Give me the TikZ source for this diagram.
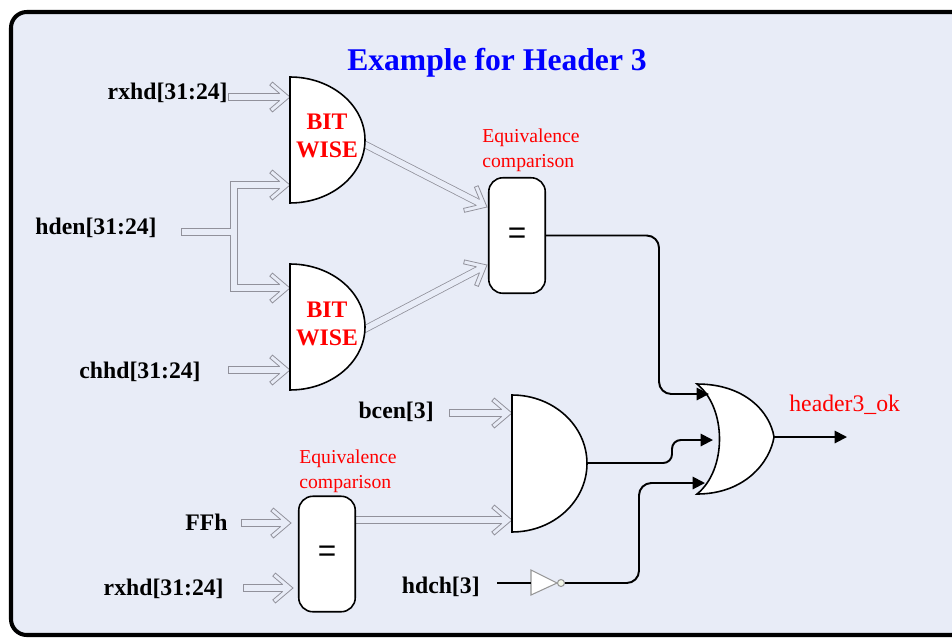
\documentclass[tikz,border=0pt]{standalone}
\usepackage{fontspec}
\setmainfont{Liberation Serif}
\setsansfont{Liberation Sans}
\usetikzlibrary{calc,arrows.meta}

\definecolor{bg}{RGB}{232,236,247}
\definecolor{busgray}{RGB}{145,145,155}
\definecolor{invgray}{RGB}{150,150,150}
\definecolor{bubblefill}{RGB}{242,246,232}

\tikzset{
  sig/.style={font=\fontsize{13.5}{16}\selectfont\bfseries, inner sep=0pt, anchor=east},
  note/.style={font=\fontsize{11.2}{14.2}\selectfont, text=red, align=left, inner sep=0pt},
  bitname/.style={font=\fontsize{13.5}{16}\selectfont\bfseries, text=red, align=center, inner sep=0pt},
  gate/.style={draw=black, fill=white, line width=0.9pt},
  eqbox/.style={gate, rounded corners=8pt, minimum width=1.13cm, minimum height=2.31cm, font=\sffamily\fontsize{18}{18}\selectfont},
  bus/.style={draw=busgray, double=bg, line width=0.45pt, double distance=3.3pt, line cap=rect, line join=miter},
  bushead/.style={draw=busgray, fill=bg, line width=0.45pt, line join=miter},
  wire/.style={line width=1.1pt, rounded corners=7pt, -{Triangle[length=7pt,width=7pt]}},
}

% hollow bus head, #1 = back point, #2 = tip
\newcommand\bushead[2]{%
  \path[bushead] ($(#2)!5.8pt!(#1)!1.9pt!90:(#1)$) -- ($(#2)!11.5pt!(#1)!6.75pt!90:(#1)$)
    -- ($(#2)!10pt!(#1)!8.5pt!90:(#1)$) -- (#2) -- ($(#2)!10pt!(#1)!8.5pt!-90:(#1)$)
    -- ($(#2)!11.5pt!(#1)!6.75pt!-90:(#1)$) -- ($(#2)!5.8pt!(#1)!1.9pt!-90:(#1)$);}
\newcommand\busarrow[2]{\draw[bus] (#1) -- ($(#2)!6.5pt!(#1)$); \bushead{#1}{#2}}

\begin{document}
\begin{tikzpicture}[x=0.02cm, y=0.02cm]
  \useasboundingbox (0,0) rectangle (952,-637);
  \clip (0,0) rectangle (952,-637);
  \fill[white] (0,0) rectangle (952,-637);
  \draw[line width=2.3pt, fill=bg, rounded corners=9pt] (11,-12) rectangle (990,-635);

  %%%%% pins %%%%%
  \coordinate (rxhdabus) at (232,-97);
  \coordinate (hdenbus) at (185,-232);
  \coordinate (split) at (234,-232);
  \coordinate (tbr) at (234,-185);
  \coordinate (bbr) at (234,-288);
  \coordinate (chhdbus) at (232,-370);
  \coordinate (bcenbus) at (453,-413);
  \coordinate (ffhbus) at (245,-523);
  \coordinate (rxhdbbus) at (247,-588);
  \coordinate (hdchbus) at (497,-583);
  \coordinate (bwain1) at (290,-97);
  \coordinate (bwain2) at (290,-185);
  \coordinate (bwbin1) at (290,-288);
  \coordinate (bwbin2) at (290,-370);
  \coordinate (bwaout) at (364,-144);
  \coordinate (bwbout) at (365,-329);
  \coordinate (eqain1) at (487,-207);
  \coordinate (eqain2) at (487,-265);
  \coordinate (eqbin1) at (291,-523);
  \coordinate (eqbin2) at (293,-588);
  \coordinate (eqbout) at (350,-520);
  \coordinate (andin1) at (512,-413);
  \coordinate (andin2) at (512,-520);
  \coordinate (andout) at (587,-463);
  \coordinate (invin) at (531,-583);
  \coordinate (orin1) at (709,-394);
  \coordinate (orin2) at (713,-440);
  \coordinate (orin3) at (705,-483);
  \coordinate (orout) at (774,-437);
  \coordinate (okend) at (847,-437);

  %%%%% buses %%%%%
  \busarrow{rxhdabus}{bwain1}
  \draw[bus] (hdenbus) -- (split) ($(bwain2)!6.5pt!(tbr)$) -- (tbr) -- (bbr) -- ($(bwbin1)!6.5pt!(bbr)$);
  \bushead{tbr}{bwain2}
  \bushead{bbr}{bwbin1}
  \busarrow{chhdbus}{bwbin2}
  \busarrow{bwaout}{eqain1}
  \busarrow{bwbout}{eqain2}
  \busarrow{bcenbus}{andin1}
  \busarrow{ffhbus}{eqbin1}
  \busarrow{rxhdbbus}{eqbin2}
  \busarrow{eqbout}{andin2}

  %%%%% gates %%%%%
  \draw[gate] (290,-77) arc[start angle=90, end angle=-90, x radius=1.5cm, y radius=1.26cm] -- cycle;
  \draw[gate] (290,-264) arc[start angle=90, end angle=-90, x radius=1.5cm, y radius=1.26cm] -- cycle;
  \draw[gate] (512,-395) arc[start angle=90, end angle=-90, x radius=1.5cm, y radius=1.37cm] -- cycle;
  \draw[gate] (697,-384) .. controls (745,-384) and (770,-412) .. (774,-437)
    .. controls (770,-462) and (745,-494) .. (697,-494)
    .. controls (727,-470) and (727,-408) .. (697,-384) -- cycle;
  \node[eqbox] (eqa) at (517,-235.5) {=};
  \node[eqbox] (eqb) at (327,-554) {=};
  \draw[draw=invgray, fill=white, line width=0.6pt] (531,-570) -- (557,-583) -- (531,-595) -- cycle;
  \node[circle, draw=invgray, fill=bubblefill, line width=0.6pt, inner sep=0pt, minimum size=0.14cm] (invo) at (561,-583) {};

  %%%%% wires %%%%%
  \draw[line width=1.1pt] (hdchbus) -- (invin);
  \draw[wire] (eqa.east) -| ($(orin1)+(-50,0)$) -- (orin1);
  \draw[wire, rounded corners=5pt] (andout) -| ($(orin2)+(-41,0)$) -- (orin2);
  \draw[wire] (invo.east) -| ($(orin3)+(-66,0)$) -- (orin3);
  \draw[wire] (orout) -- (okend);

  %%%%% texts %%%%%
  \node[font=\fontsize{18}{20}\selectfont\bfseries, text=blue] (title) at (497,-63) {Example for Header 3};
  \node[sig] (rxhda) at (228,-93) {rxhd[31:24]};
  \node[sig] (hden) at (157,-228) {hden[31:24]};
  \node[sig] (chhd) at (201,-372) {chhd[31:24]};
  \node[sig] (bcen) at (434,-412) {bcen[3]};
  \node[sig] (ffh) at (228,-522) {FFh};
  \node[sig] (rxhdb) at (224,-589) {rxhd[31:24]};
  \node[sig] (hdch) at (480,-587) {hdch[3]};
  \node[bitname] (bwa) at (327,-136) {BIT\\WISE};
  \node[bitname] (bwb) at (327,-324) {BIT\\WISE};
  \node[note] (cmpa) at (531,-150) {Equivalence\\comparison};
  \node[note] (cmpb) at (348,-471) {Equivalence\\comparison};
  \node[note, font=\fontsize{13.5}{16}\selectfont, anchor=west] (okname) at (789,-405) {header3\_ok};
\end{tikzpicture}
\end{document}
